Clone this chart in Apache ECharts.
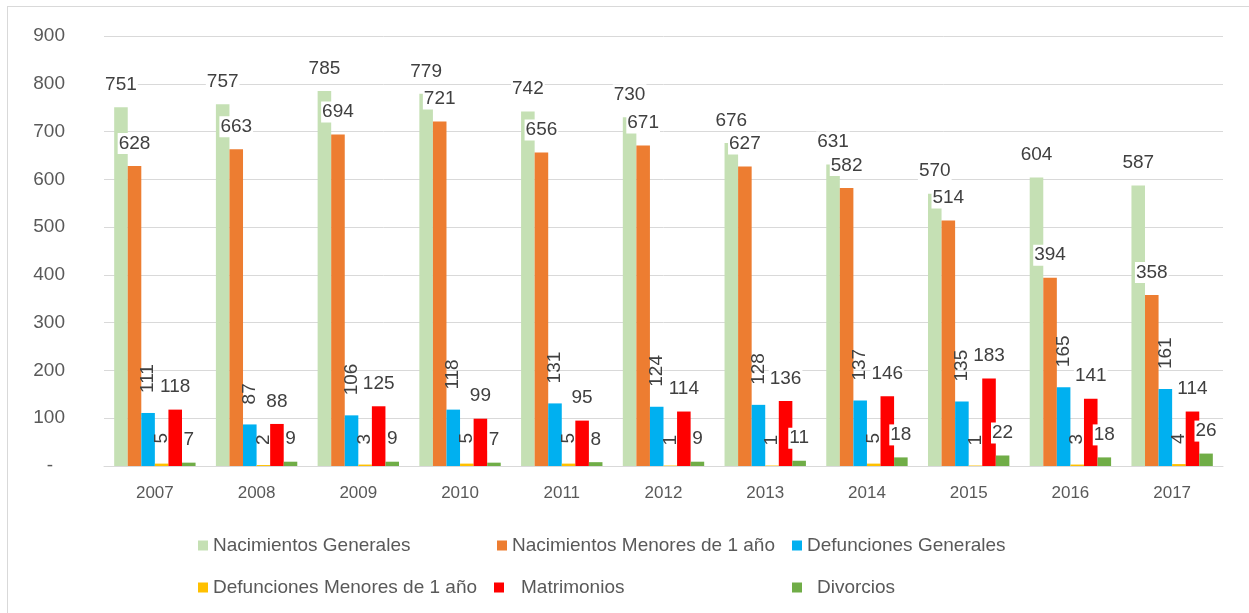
<!DOCTYPE html>
<html>
<head>
<meta charset="utf-8">
<script src="https://cdn.jsdelivr.net/npm/echarts@6/dist/echarts.min.js"></script>
<style>
html,body{margin:0;padding:0;background:#fff;}
#frame{position:absolute;left:7px;top:6px;width:1260px;height:620px;border:1px solid #d9d9d9;box-sizing:border-box;}
#chart{position:absolute;left:0;top:0;width:1249px;height:613px;}
</style>
</head>
<body>
<div id="frame"></div>
<div id="chart"></div>
<script>
const years = ['2007','2008','2009','2010','2011','2012','2013','2014','2015','2016','2017'];
const seriesNames = ['Nacimientos Generales','Nacimientos Menores de 1 año','Defunciones Generales','Defunciones Menores de 1 año','Matrimonios','Divorcios'];
const nacimientosGenerales = [751,757,785,779,742,730,676,631,570,604,587];
const nacimientosMenores = [628,663,694,721,656,671,627,582,514,394,358];
const defuncionesGenerales = [111,87,106,118,131,124,128,137,135,165,161];
const defuncionesMenores = [5,2,3,5,5,1,1,5,1,3,4];
const matrimonios = [118,88,125,99,95,114,136,146,183,141,114];
const divorcios = [7,9,9,7,8,9,11,18,22,18,26];
const yTicks = [0,100,200,300,400,500,600,700,800,900];

const colors = ['#C5E0B4','#ED7D31','#00B0F0','#FFC000','#FF0000','#70AD47'];
const values = [nacimientosGenerales,nacimientosMenores,defuncionesGenerales,defuncionesMenores,matrimonios,divorcios];
const rotated = [false,false,true,true,false,false];
const FONT = 'Liberation Sans';

const hLabel = {show:true,position:'top',distance:12,color:'#404040',fontSize:19,fontFamily:FONT,backgroundColor:'#fff',padding:[1,1]};
const vLabel = {show:true,position:'top',distance:20,rotate:90,align:'left',verticalAlign:'middle',color:'#404040',fontSize:19,fontFamily:FONT};

const series = seriesNames.map((n,i)=>({
  name:n,type:'bar',data:values[i],barGap:'0%',barCategoryGap:'20%',
  itemStyle:{color:colors[i]},
  label: rotated[i]?vLabel:hLabel,
  emphasis:{disabled:true}
}));

const legendPos = [[193,531,0],[492,531,0],[787,531,0],[193,573,0],[489,573,12],[787,573,10]];
const legends = seriesNames.map((n,i)=>({
  data:[n],left:legendPos[i][0],top:legendPos[i][1],itemWidth:10,itemHeight:10,
  icon:'rect',selectedMode:false,
  textStyle:{color:'#595959',fontSize:19,fontFamily:FONT,padding:[0,0,0,legendPos[i][2]]}
}));

const chart = echarts.init(document.getElementById('chart'),null,{renderer:'canvas'});
chart.setOption({
  animation:false,
  textStyle:{fontFamily:FONT},
  grid:{left:104,right:26,top:36,bottom:147,containLabel:false},
  legend:legends,
  xAxis:{type:'category',data:years,
    axisLine:{lineStyle:{color:'#d9d9d9',width:1}},axisTick:{show:false},
    axisLabel:{color:'#595959',fontSize:17,fontFamily:FONT,margin:19}},
  yAxis:{type:'value',min:yTicks[0],max:yTicks[yTicks.length-1],interval:100,
    axisLine:{show:false},axisTick:{show:false},
    splitLine:{lineStyle:{color:'#d9d9d9',width:1}},
    axisLabel:{color:'#595959',fontSize:19,fontFamily:FONT,margin:39,
      formatter:v=>v===0?'{d|-}':String(v),
      rich:{d:{color:'#595959',fontSize:19,fontFamily:FONT,padding:[0,12,0,0]}}}},
  series:series
});
</script>
</body>
</html>
